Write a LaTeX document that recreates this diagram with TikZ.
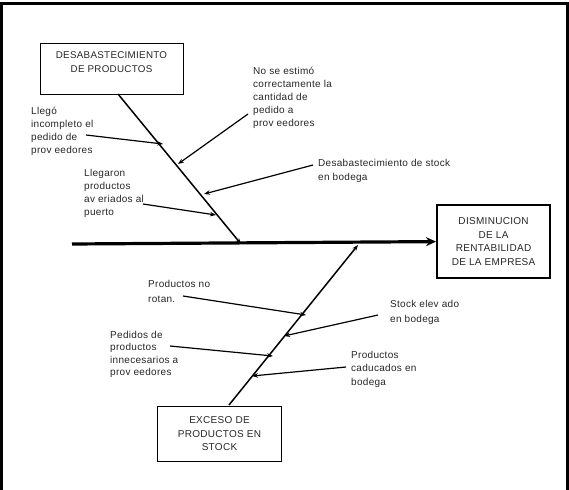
\documentclass[tikz,border=0pt]{standalone}
\usepackage{fontspec}
\setmainfont{Liberation Sans}[LetterSpace=3]
\usetikzlibrary{arrows.meta}
\begin{document}
\begin{tikzpicture}[x=1pt,y=-1pt,
  txt/.style={font=\fontsize{10}{13}\selectfont, align=left, anchor=north west, inner sep=0pt, text=black!85},
  boxc/.style={draw, line width=1pt, font=\fontsize{10}{13.5}\selectfont, align=center, inner sep=0pt, text=black!85},
  bone/.style={line width=1.5pt, -{Stealth[length=6pt,width=4.5pt]}},
  twig/.style={line width=1.2pt, -{Stealth[length=6pt,width=4.5pt]}},
  spine/.style={line width=3.2pt, -{Stealth[length=10pt,width=9pt]}}]
\useasboundingbox (0,0) rectangle (569,489);
\draw[line width=3pt] (1.5,500) -- (1.5,3.5) -- (567,3.5) -- (567,500);

% boxes
\node[boxc, minimum width=143pt, minimum height=51pt, anchor=north west] (cause1) at (40,43) {};
\node[txt, anchor=center, align=center, font=\fontsize{9.8}{14}\selectfont] (c1t) at (111.5,62) {DESABASTECIMIENTO\\DE PRODUCTOS};
\node[boxc, line width=2.2pt, minimum width=113pt, minimum height=73pt, anchor=north west] (effect) at (436,204) {DISMINUCION\\DE LA\\RENTABILIDAD\\DE LA EMPRESA};
\node[boxc, minimum width=124pt, minimum height=55pt, anchor=north west] (cause2) at (157,406) {EXCESO  DE\\PRODUCTOS EN\\STOCK};

% spine
\coordinate (sp0) at (72,244);
\draw[spine] (sp0) -- (effect.west);

% bone 1
\coordinate (b1s) at (118,94);
\coordinate (b1e) at (241,244);
\draw[bone] (b1s) -- (b1e);

% bone 2
\coordinate (b2s) at (229,405);
\coordinate (b2e) at (358,245);
\draw[bone] (b2s) -- (b2e);

% top texts
\node[txt] (t1) at (31,107) {Llegó\\incompleto el\\pedido  de\\prov eedores};
\node[txt] (t2) at (253,67) {No se estimó\\correctamente la\\cantidad de\\pedido  a\\prov eedores};
\node[txt, font=\fontsize{10}{14}\selectfont] (t3) at (318,159) {Desabastecimiento de stock\\en bodega};
\node[txt] (t4) at (84,169) {Llegaron\\productos\\av eriados al\\puerto};

\coordinate (a1s) at (86,135); \coordinate (a1e) at (163,144);
\coordinate (a2s) at (248,114); \coordinate (a2e) at (178,164);
\coordinate (a3s) at (313,165); \coordinate (a3e) at (204,194);
\coordinate (a4s) at (143,204); \coordinate (a4e) at (216,215);
\draw[twig] (a1s) -- (a1e);
\draw[twig] (a2s) -- (a2e);
\draw[twig] (a3s) -- (a3e);
\draw[twig] (a4s) -- (a4e);

% bottom texts
\node[txt, font=\fontsize{10}{15}\selectfont] (t5) at (148,280) {Productos  no\\rotan.};
\node[txt, font=\fontsize{10}{15}\selectfont] (t6) at (390,300) {Stock elev ado\\en bodega};
\node[txt, font=\fontsize{10}{12.3}\selectfont] (t7) at (110,331) {Pedidos  de\\productos\\innecesarios  a\\prov eedores};
\node[txt, font=\fontsize{10}{13.5}\selectfont] (t8) at (351,351) {Productos\\caducados  en\\bodega};

\coordinate (a5s) at (183,296); \coordinate (a5e) at (306,315);
\coordinate (a6s) at (378,315); \coordinate (a6e) at (284,336);
\coordinate (a7s) at (170,346); \coordinate (a7e) at (273,356);
\coordinate (a8s) at (346,367); \coordinate (a8e) at (252,376);
\draw[twig] (a5s) -- (a5e);
\draw[twig] (a6s) -- (a6e);
\draw[twig] (a7s) -- (a7e);
\draw[twig] (a8s) -- (a8e);
\end{tikzpicture}
\end{document}
